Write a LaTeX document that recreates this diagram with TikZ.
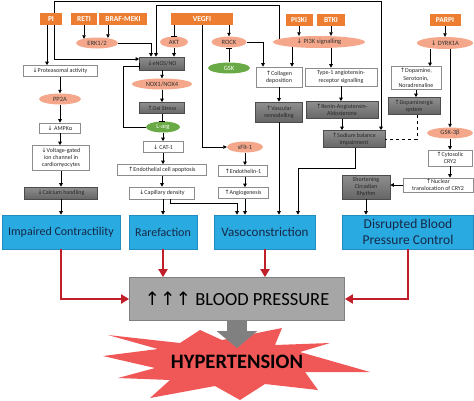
\documentclass[tikz,border=0pt]{standalone}
\usepackage{fontspec}
\setmainfont{Carlito}
\newfontfamily\arrfont{DejaVu Sans}
\newcommand{\UP}{{\arrfont ↑}}
\newcommand{\DN}{{\arrfont ↓}}
\usetikzlibrary{arrows.meta,shapes.geometric}
\definecolor{drugorange}{RGB}{237,125,49}
\definecolor{salmon}{RGB}{244,167,138}
\definecolor{leafgreen}{RGB}{106,170,70}
\definecolor{boxblue}{RGB}{41,171,226}
\definecolor{blueedge}{RGB}{35,140,190}
\definecolor{bluetext}{RGB}{22,40,70}
\definecolor{bpred}{RGB}{192,30,40}
\definecolor{burst}{RGB}{240,88,88}
\tikzset{
  drug/.style={rectangle, fill=drugorange, text=white, font=\fontsize{7.5}{8}\selectfont\bfseries, minimum height=12pt, inner sep=1pt},
  pill/.style={ellipse, fill=salmon, font=\fontsize{6.5}{7}\selectfont, text=black!80, minimum height=11pt, inner sep=0pt},
  gpill/.style={pill, fill=leafgreen, text=white},
  wbox/.style={rectangle, draw=black!45, fill=white, line width=.6pt, align=center, font=\fontsize{6}{7.2}\selectfont, text=black!85, inner sep=1pt},
  gbox/.style={wbox, draw=black!70, top color=black!44, bottom color=black!60},
  bbox/.style={rectangle, fill=boxblue, draw=blueedge, line width=.6pt, align=center, text=bluetext, minimum height=34pt, inner sep=1pt},
  arr/.style={-{Triangle[length=3.5pt,width=3.5pt]}, line width=.7pt},
  inh/.style={-{Bar[width=6pt]}, line width=.7pt},
  redarr/.style={-{Triangle[length=8pt,width=9pt]}, line width=2.8pt, draw=bpred},
}
\begin{document}
\begin{tikzpicture}[x=1pt,y=-1pt]
	\useasboundingbox (0,0) rectangle (474,400);
	%% inhibitors
	\node[drug, minimum width=22pt] (pi) at (51,19) {PI};
	\node[drug, minimum width=26pt] (reti) at (84,19) {RETI};
	\node[drug, minimum width=48pt] (braf) at (123,19) {BRAF-MEKI};
	\node[drug, minimum width=62pt] (vegfi) at (202,19) {VEGFI};
	\node[drug, minimum width=27pt] (pik) at (299,20) {PI3Ki};
	\node[drug, minimum width=28pt] (btk) at (331,20) {BTKI};
	\node[drug, minimum width=31pt] (parp) at (445,20) {PARPI};
	%% molecules
	\node[pill, minimum width=42pt] (erk) at (97,43) {ERK1/2};
	\node[pill, minimum width=28pt] (akt) at (174,42) {AKT};
	\node[pill, minimum width=35pt] (rock) at (229,42) {ROCK};
	\node[pill, minimum width=92pt, minimum height=12pt] (pisig) at (319,42) {\DN\ PI3K signalling};
	\node[pill, minimum width=56pt, minimum height=12pt] (dyrk) at (445,43) {\DN\ DYRK1A};
	\node[gpill, minimum width=42pt] (gsk) at (229,68) {GSK};
	\node[pill, minimum width=60pt] (nox) at (162,84) {NOX1/NOX4};
	\node[gpill, minimum width=34pt] (larg) at (163,127) {L-arg};
	\node[pill, minimum width=42pt] (pp2a) at (60,99) {PP2A};
	\node[pill, minimum width=36pt] (sflt) at (245,147) {sFlt-1};
	\node[pill, minimum width=46pt] (gsk3) at (450,133) {GSK-3β};
	%% effects
	\node[wbox, minimum width=74pt, minimum height=11pt] (prot) at (60,71) {\DN Proteasomal activity};
	\node[wbox, minimum width=41pt, minimum height=10pt] (ampk) at (60,128) {\DN\ AMPKα};
	\node[wbox, minimum width=57pt, minimum height=25pt] (volt) at (61,158) {\DN Voltage-gated\\ion channel in\\cardiomyocytes};
	\node[gbox, minimum width=73pt, minimum height=12pt] (calc) at (61,193) {\DN Calcium handling};
	\node[gbox, minimum width=45pt, minimum height=13pt] (enos) at (162,63.5) {\DN eNOS/NO};
	\node[gbox, minimum width=45pt, minimum height=11pt] (oxi) at (162,108) {\UP Oxi Stress};
	\node[wbox, minimum width=40pt, minimum height=11pt] (cat) at (163,147) {\DN\ CAT-1};
	\node[wbox, minimum width=89pt, minimum height=11pt] (apop) at (162,170) {\UP Endothelial cell apoptosis};
	\node[wbox, minimum width=65pt, minimum height=12pt] (capd) at (162,193) {\DN Capillary density};
	\node[wbox, minimum width=49pt, minimum height=11pt] (endo) at (243,171) {\UP Endothelin-1};
	\node[wbox, minimum width=50pt, minimum height=11pt] (angio) at (243,193) {\UP Angiogenesis};
	\node[wbox, minimum width=46pt, minimum height=20pt] (coll) at (279,77) {\UP Collagen\\deposition};
	\node[gbox, minimum width=47pt, minimum height=20pt] (vasc) at (279,112) {\UP Vascular\\remodelling};
	\node[wbox, minimum width=72pt, minimum height=18pt] (type) at (341,77) {Type-1 angiotensin-\\receptor signalling};
	\node[gbox, minimum width=72pt, minimum height=17pt] (raa) at (342,110) {\UP Renin-Angiotensin-\\Aldosterone};
	\node[gbox, minimum width=62pt, minimum height=17pt] (sod) at (354,139) {\UP Sodium balance\\impairment};
	\node[wbox, minimum width=50pt, minimum height=23pt] (dopa) at (416,78) {\UP Dopamine,\\Serotonin,\\Noradrenaline};
	\node[gbox, minimum width=52pt, minimum height=17pt] (dsys) at (414,106) {\UP Dopaminergic\\system};
	\node[wbox, minimum width=44pt, minimum height=16pt] (cry) at (450,158) {\UP Cytosolic\\CRY2};
	\node[wbox, minimum width=70pt, minimum height=14pt] (nuc) at (438,185) {\UP Nuclear\\translocation of CRY2};
	\node[gbox, minimum width=48pt, minimum height=24pt] (circ) at (366,187) {Shortening\\Circadian\\Rhythm};
	%% outcomes
	\node[bbox, minimum width=118pt, font=\fontsize{12}{14}\selectfont] (imp) at (61,232) {Impaired Contractility};
	\node[bbox, minimum width=68pt, font=\fontsize{12}{14}\selectfont] (rar) at (163,232) {Rarefaction};
	\node[bbox, minimum width=101pt, font=\fontsize{13}{15}\selectfont] (vaso) at (265,232) {Vasoconstriction};
	\node[bbox, minimum width=131pt, font=\fontsize{13.5}{15.5}\selectfont] (dis) at (408,232) {Disrupted Blood\\Pressure Control};
	\node[rectangle, fill=black!35, draw=black!50, line width=.8pt, minimum width=215pt, minimum height=43pt, font=\fontsize{18.5}{20}\selectfont] (bp) at (237,299) {\UP\UP\UP\ BLOOD PRESSURE};
	%% starburst
	\fill[burst] (103,356) -- (158,349) -- (108,335) -- (180,343) -- (200,330) -- (222,340)
		-- (282,328) -- (275,345) -- (330,343) -- (300,352) -- (370,372) -- (305,372)
		-- (318,390) -- (265,384) -- (240,400) -- (215,386) -- (150,398) -- (170,380)
		-- (118,378) -- (155,368) -- cycle;
	\node[font=\fontsize{20.5}{22}\selectfont\bfseries, inner sep=1pt] (hyp) at (237,362) {HYPERTENSION};
	\draw[line width=20pt, draw=black!50, -{Triangle[length=17pt,width=40pt]}] (bp.south) -- ([yshift=6pt]hyp.north);
	%% helper points
	\coordinate (topA) at (0,1.5);
	\coordinate (topB) at (0,5);
	\coordinate (nofb) at (123,66);
	\coordinate (sodbend) at (298,168);
	%% left column
	\draw[arr] ([xshift=-4pt]pi.south) -- ([xshift=-4pt]pi.south |- prot.north);
	\draw[arr] (prot.south) -- (pp2a.north);
	\draw[arr] (pp2a.south) -- (ampk.north);
	\draw[arr] (ampk.south) -- (ampk.south |- volt.north);
	\draw[arr] (volt.south) -- (calc.north);
	\draw[arr] (calc.south) -- (calc.south |- imp.north);
	%% eNOS inputs
	\draw[arr] ([xshift=3pt]pi.south) |- ([yshift=4.5pt]enos.west);
	\draw[arr] ([xshift=3pt]pi.north) |- ([xshift=27pt]sod.north |- topA) -- ([xshift=27pt]sod.north);
	\draw[arr] (reti.south) -- ([yshift=-1.5pt]reti.south |- erk.north);
	\draw[arr] ([xshift=-15pt]braf.south) -- ([xshift=-15pt,yshift=-.5pt]braf.south |- erk.north);
	\draw[arr] (erk.east) -| ([xshift=-11pt]enos.north);
	\draw[arr] ([xshift=-40pt,yshift=-3pt]pisig.north) |- ([xshift=-6pt]enos.north |- topB) -- ([xshift=-6pt]enos.north);
	\draw[arr] (akt.south) -- (akt.south |- enos.north);
	\draw[inh] ([xshift=-28pt]vegfi.south) -- ([xshift=-28pt]vegfi.south |- akt.north);
	\draw[arr] ([xshift=27pt]vegfi.south) -- ([xshift=27pt]vegfi.south |- rock.north);
	\draw[arr] (vegfi.south) |- (sflt.west);
	\draw[inh] (gsk.north) -- (rock.south);
	%% eNOS chain
	\draw[arr] (enos.south) -- (nox.north);
	\draw[arr] (nox.south) -- (oxi.north);
	\draw[inh] (oxi.south) -- (oxi.south |- larg.north);
	\draw[arr] (larg.south) -- (cat.north);
	\draw[arr] (cat.south) -- (cat.south |- apop.north);
	\draw[arr] (apop.south) -- (capd.north);
	\draw[inh] (larg.west) -| (nofb) -- (nofb -| enos.west);
	\draw[arr] ([xshift=1pt]capd.south) -- ([xshift=1pt]capd.south |- rar.north);
	\draw[arr] ([xshift=8pt]capd.south) |- ([xshift=-28pt,yshift=11pt]vaso.north) -- ([xshift=-28pt]vaso.north);
	%% ROCK and sFlt-1
	\draw[arr] (rock.east) -| ([xshift=-16pt]coll.north);
	\draw[arr] ([xshift=-27pt,yshift=1pt]pisig.south) -- ([xshift=-27pt]pisig.south |- coll.north);
	\draw[arr] (coll.south) -- (vasc.north);
	\draw[arr] (vasc.south) -- (vasc.south |- vaso.north);
	\draw[arr] (sflt.south) -- (sflt.south |- endo.north);
	\draw[arr] (sflt.south |- endo.south) -- (sflt.south |- angio.north);
	\draw[arr] ([xshift=2pt]angio.south) -- ([xshift=2pt]angio.south |- vaso.north);
	%% PI3K and RAAS
	\draw[arr] (pik.south) -- (pik.south |- pisig.north);
	\draw[arr] (btk.south) -- (btk.south |- pisig.north);
	\draw[arr] ([xshift=12pt]pisig.south) -- ([xshift=12pt]pisig.south |- type.north);
	\draw[arr] (type.south) -- (type.south |- raa.north);
	\draw[arr] (raa.south) -- (raa.south |- sod.north);
	\draw[arr] ([xshift=1pt]sod.south) |- (sodbend) -- (sodbend |- vaso.north);
	\draw[dashed, line width=.7pt] ([xshift=3pt]dsys.south) |- (sod.east);
	%% DYRK1A
	\draw[arr] (parp.south) -- (dyrk.north);
	\draw[arr] ([xshift=-15pt]dyrk.south) -- ([xshift=-15pt]dyrk.south |- dopa.north);
	\draw[arr] ([xshift=5pt]dyrk.south) -- ([xshift=5pt]dyrk.south |- gsk3.north);
	\draw[arr] (dopa.south) -- (dopa.south |- dsys.north);
	\draw[arr] (gsk3.south) -- (cry.north);
	\draw[arr] (cry.south) -- (cry.south |- nuc.north);
	\draw[arr] (nuc.west) -- (nuc.west -| circ.east);
	\draw[arr] (circ.south) -- (circ.south |- dis.north);
	%% to blood pressure
	\draw[redarr] (imp.south) |- (bp.west);
	\draw[redarr] (rar.south) -- (rar.south |- bp.north);
	\draw[redarr] (vaso.south) -- (vaso.south |- bp.north);
	\draw[redarr] (dis.south) |- (bp.east);
\end{tikzpicture}
\end{document}
